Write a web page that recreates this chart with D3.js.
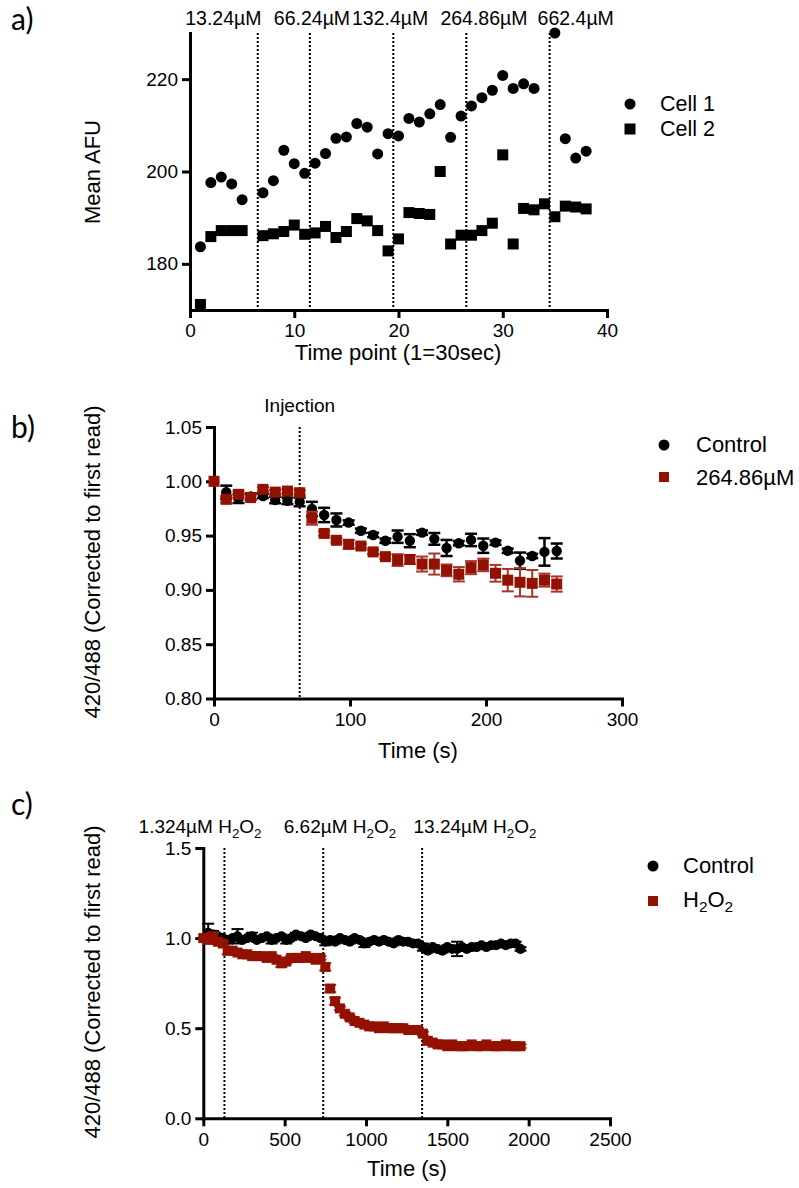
<!DOCTYPE html>
<html>
<head>
<meta charset="utf-8">
<script src="https://cdn.jsdelivr.net/npm/d3@7"></script>
<style>
  body { margin: 0; background: #fff; }
  text { font-family: "Liberation Sans", Arial, Helvetica, sans-serif; fill: #000; }
</style>
</head>
<body>
<script>
// ---- panel a data (time point, 1 = 30 sec) ----
const aTime = [1,2,3,4,5,6,7,8,9,10,11,12,13,14,15,16,17,18,19,20,21,22,23,24,25,26,27,28,29,30,31,32,33,34,35,36,37,38];
const aCell1 = [183.7,197.6,198.8,197.3,193.9,null,195.4,198.0,204.6,201.7,199.6,201.8,203.9,207.2,207.5,210.4,209.6,203.8,208.2,207.7,
  211.5,210.7,212.5,214.5,207.4,212.0,214.2,216.0,217.6,220.8,218.0,219.0,218.0,null,230.0,207.1,202.9,204.4];
const aCell2 = [171.2,185.9,187.2,187.2,187.2,null,186.1,186.5,187.0,188.4,186.4,186.7,188.1,185.7,187.0,189.8,189.3,187.2,182.8,185.4,
  191.1,190.9,190.7,200.0,184.3,186.2,186.2,187.2,188.8,203.6,184.3,192.0,191.7,193.0,190.2,192.5,192.3,191.9];
const aDoseX = [6.5, 11.5, 19.5, 26.5, 34.5];
const aDoseLabels = ["13.24µM", "66.24µM", "132.4µM", "264.86µM", "662.4µM"];
const aDoseLabelX = [3.2, 11.7, 19.2, 28.2, 37.0];

// ---- panel b data ----
const bTime = [0,9,18,27,36,45,54,63,72,81,90,99,108,117,126,135,144,153,162,171,180,189,198,207,216,225,234,243,252];
const bCtrl = [1.000,0.990,0.984,0.986,0.9865,0.9828,0.982,0.981,0.9745,0.969,0.9644,0.962,0.9545,0.9506,0.9453,0.949,0.9453,0.9527,0.947,
  0.9386,0.943,0.946,0.9407,0.9435,0.936,0.9269,0.9312,0.935,0.9358];
const bCtrlErr = [0,0.006,0.004,0.003,0.002,0.003,0.003,0.004,0.0066,0.0066,0.006,0.002,0.002,0.002,0.002,0.0057,0.006,0.002,0.0054,
  0.0074,0.002,0.0057,0.0066,0.002,0.002,0.0075,0.002,0.0127,0.0069];
const bTreat = [1.000,0.9834,0.988,0.985,0.9926,0.990,0.991,0.9895,0.966,0.952,0.9457,0.942,0.9404,0.935,0.9306,0.9275,0.928,0.9238,0.9238,
  0.918,0.9144,0.9205,0.923,0.9153,0.909,0.907,0.906,0.909,0.9054];
const bTreatErr = [0,0.003,0.003,0.002,0.002,0.002,0.002,0.002,0.006,0.002,0.002,0.004,0.002,0.002,0.002,0.0054,0.004,0.0069,0.0097,
  0.0054,0.0066,0.006,0.0058,0.0077,0.0103,0.013,0.0123,0.006,0.007];
const bInjection = 63;

// ---- panel c data ----
const cTime = [0,30,60,90,120,150,180,210,240,270,300,330,360,390,420,450,480,510,540,570,600,630,660,690,720,750,780,810,840,870,
  900,930,960,990,1020,1050,1080,1110,1140,1170,1200,1230,1260,1290,1320,1350,1380,1410,1440,1470,1500,1530,1560,1590,1620,1650,
  1680,1710,1740,1770,1800,1830,1860,1890,1920,1950];
const cCtrl = [1.00,1.03,1.02,1.01,1.00,0.99,1.00,1.01,0.99,1.00,1.01,0.99,1.00,1.01,0.99,1.00,1.01,0.99,1.00,1.02,1.01,1.00,1.02,1.01,
  1.00,0.98,0.99,0.98,1.00,0.99,0.98,1.00,0.99,0.97,0.98,0.99,0.98,0.99,0.98,0.97,0.99,0.98,0.98,0.97,0.97,0.95,0.93,0.95,0.94,0.93,
  0.95,0.94,0.94,0.95,0.94,0.95,0.95,0.96,0.95,0.96,0.96,0.97,0.96,0.97,0.97,0.94];
const cCtrlErr = [0,0.05,0.02,0.01,0.01,0.02,0.01,0.04,0.01,0.01,0.02,0.01,0.01,0.01,0.02,0.01,0.01,0.02,0.01,0.01,0.01,0.01,0.01,0.01,
  0.01,0.02,0.01,0.01,0.01,0.01,0.01,0.01,0.01,0.02,0.01,0.01,0.01,0.01,0.01,0.01,0.01,0.01,0.01,0.01,0.01,0.02,0.01,0.01,0.01,0.01,
  0.01,0.01,0.04,0.01,0.01,0.01,0.01,0.01,0.01,0.01,0.01,0.01,0.01,0.01,0.01,0.01];
const cH2O2 = [1.00,0.99,1.01,0.98,0.97,0.93,0.93,0.92,0.91,0.91,0.90,0.90,0.90,0.89,0.90,0.88,0.86,0.87,0.89,0.89,0.89,0.90,0.89,0.88,
  0.89,0.84,0.72,0.65,0.61,0.58,0.56,0.54,0.53,0.52,0.51,0.51,0.50,0.51,0.50,0.50,0.50,0.50,0.49,0.49,0.49,0.47,0.43,0.42,0.41,0.41,
  0.40,0.41,0.40,0.40,0.40,0.41,0.40,0.40,0.41,0.40,0.40,0.40,0.41,0.40,0.40,0.40];
const cH2O2Err = [0,0.01,0.02,0.01,0.01,0.02,0.01,0.01,0.01,0.01,0.01,0.01,0.01,0.01,0.01,0.01,0.02,0.01,0.01,0.01,0.01,0.01,0.01,0.01,
  0.01,0.02,0.02,0.02,0.01,0.01,0.01,0.01,0.01,0.01,0.01,0.01,0.01,0.01,0.01,0.01,0.01,0.01,0.01,0.01,0.01,0.01,0.01,0.01,0.01,0.01,
  0.01,0.01,0.01,0.01,0.01,0.01,0.01,0.01,0.01,0.01,0.01,0.01,0.01,0.01,0.01,0.01];
const cDoseX = [130, 737, 1345];
const cDoseLabels = ["1.324µM", "6.62µM", "13.24µM"];
const cDoseLabelX = [-20, 840, 1670];

const red = "#931100";
const arial = '"Liberation Sans", Arial, Helvetica, sans-serif';

const svg = d3.select("body").append("svg")
    .attr("width", 799)
    .attr("height", 1188)
    .attr("font-family", arial);

// draws a GraphPad-like axis pair
function drawAxes(x, y, xTicks, yTicks, yFmt) {
    let g = svg.append("g");
    g.append("g")
        .attr("transform", "translate(0," + y.range()[0] + ")")
        .call(d3.axisBottom(x).tickValues(xTicks).tickFormat(d3.format("d"))
            .tickSize(8).tickPadding(6).tickSizeOuter(0));
    g.append("g")
        .attr("transform", "translate(" + x.range()[0] + ",0)")
        .call(d3.axisLeft(y).tickValues(yTicks).tickFormat(yFmt).tickSize(8).tickPadding(4).tickSizeOuter(0));
    g.selectAll("g").attr("font-family", arial);
    g.selectAll(".domain").attr("stroke", "#000").attr("stroke-width", 3).attr("stroke-linecap", "square");
    g.selectAll(".tick line").attr("stroke", "#000").attr("stroke-width", 3);
    g.selectAll(".tick text").attr("font-size", 19).attr("fill", "#000");
}

function dotted(x, y, xs) {
    svg.append("g").selectAll("line").data(xs).enter().append("line")
        .attr("x1", d => x(d)).attr("x2", d => x(d))
        .attr("y1", y.range()[1]).attr("y2", y.range()[0])
        .attr("stroke", "#000").attr("stroke-width", 2).attr("stroke-dasharray", "2,2");
}

function errorBars(x, y, times, vals, errs, color, w, cap) {
    let rows = times.map((t, i) => ({ t: t, v: vals[i], e: errs[i] })).filter(d => d.e > 0);
    let g = svg.append("g").attr("stroke", color).attr("stroke-width", w);
    g.selectAll(".v").data(rows).enter().append("line")
        .attr("x1", d => x(d.t)).attr("x2", d => x(d.t))
        .attr("y1", d => y(d.v - d.e)).attr("y2", d => y(d.v + d.e));
    [-1, 1].forEach(s => {
        g.selectAll(".c" + s).data(rows).enter().append("line")
            .attr("x1", d => x(d.t) - cap).attr("x2", d => x(d.t) + cap)
            .attr("y1", d => y(d.v + s * d.e)).attr("y2", d => y(d.v + s * d.e));
    });
}

function circles(x, y, times, vals, r, color) {
    svg.append("g").selectAll("circle")
        .data(times.map((t, i) => ({ t: t, v: vals[i] })).filter(d => d.v != null))
        .enter().append("circle")
        .attr("cx", d => x(d.t)).attr("cy", d => y(d.v)).attr("r", r).attr("fill", color);
}

function squares(x, y, times, vals, s, color) {
    svg.append("g").selectAll("rect")
        .data(times.map((t, i) => ({ t: t, v: vals[i] })).filter(d => d.v != null))
        .enter().append("rect")
        .attr("x", d => x(d.t) - s / 2).attr("y", d => y(d.v) - s / 2)
        .attr("width", s).attr("height", s).attr("fill", color);
}

function text(x, y, str, size, anchor) {
    return svg.append("text").attr("x", x).attr("y", y).attr("font-size", size)
        .attr("text-anchor", anchor || "start").text(str);
}

function yTitle(x, y, str) {
    svg.append("text").attr("transform", "translate(" + x + "," + y + ") rotate(-90)")
        .attr("text-anchor", "middle").attr("font-size", 22).text(str);
}

// H2O2 with subscripts
function h2o2(sel) {
    sel.append("tspan").text("H");
    sel.append("tspan").attr("dy", 5).attr("font-size", "0.7em").text("2");
    sel.append("tspan").attr("dy", -5).text("O");
    sel.append("tspan").attr("dy", 5).attr("font-size", "0.7em").text("2");
}

// panel letters
[["a)", 30], ["b)", 438], ["c)", 815]].forEach(p => {
    svg.append("text").attr("x", 11).attr("y", p[1]).attr("font-size", 30)
        .style("font-family", "Lato, 'Open Sans', sans-serif").text(p[0]);
});

// ================= panel a =================
let xa = d3.scaleLinear().domain([0, 40]).range([190, 607]);
let ya = d3.scaleLinear().domain([170, 230]).range([310, 33]);
dotted(xa, ya, aDoseX);
drawAxes(xa, ya, [0, 10, 20, 30, 40], [180, 200, 220], d3.format("d"));
circles(xa, ya, aTime, aCell1, 5.5, "#000");
squares(xa, ya, aTime, aCell2, 11, "#000");
aDoseLabels.forEach((l, i) => text(xa(aDoseLabelX[i]), 25, l, 19.5, "middle"));
yTitle(100, 172, "Mean AFU");
text(398, 360, "Time point (1=30sec)", 22, "middle");
svg.append("circle").attr("cx", 630).attr("cy", 104).attr("r", 5.5);
svg.append("rect").attr("x", 624.5).attr("y", 123.5).attr("width", 11).attr("height", 11);
text(660, 111, "Cell 1", 21.5);
text(660, 136, "Cell 2", 21.5);

// ================= panel b =================
let xb = d3.scaleLinear().domain([0, 300]).range([214, 622]);
let yb = d3.scaleLinear().domain([0.80, 1.05]).range([698.5, 427]);
dotted(xb, yb, [bInjection]);
drawAxes(xb, yb, [0, 100, 200, 300], [0.80, 0.85, 0.90, 0.95, 1.00, 1.05], d3.format(".2f"));
errorBars(xb, yb, bTime, bCtrl, bCtrlErr, "#000", 2.5, 6);
circles(xb, yb, bTime, bCtrl, 5.2, "#000");
errorBars(xb, yb, bTime, bTreat, bTreatErr, "#a8342a", 2, 6);
squares(xb, yb, bTime, bTreat, 11, red);
text(xb(bInjection), 412, "Injection", 19, "middle");
yTitle(100, 562, "420/488 (Corrected to first read)");
text(418, 758, "Time (s)", 22, "middle");
svg.append("circle").attr("cx", 664).attr("cy", 445).attr("r", 5.5);
svg.append("rect").attr("x", 659).attr("y", 472).attr("width", 10).attr("height", 10).attr("fill", red);
text(696, 452, "Control", 22);
text(696, 485, "264.86µM", 22);

// ================= panel c =================
let xc = d3.scaleLinear().domain([0, 2500]).range([203.3, 610]);
let yc = d3.scaleLinear().domain([0, 1.5]).range([1118.3, 848]);
dotted(xc, yc, cDoseX);
drawAxes(xc, yc, [0, 500, 1000, 1500, 2000, 2500], [0, 0.5, 1.0, 1.5], d3.format(".1f"));
errorBars(xc, yc, cTime, cCtrl, cCtrlErr, "#000", 2, 6);
circles(xc, yc, cTime, cCtrl, 5, "#000");
errorBars(xc, yc, cTime, cH2O2, cH2O2Err, "#a8342a", 2, 6);
squares(xc, yc, cTime, cH2O2, 10, red);
cDoseLabels.forEach((l, i) => {
    let t = text(xc(cDoseLabelX[i]), 833, l + " ", 19, "middle");
    h2o2(t);
});
yTitle(100, 982, "420/488 (Corrected to first read)");
text(407, 1176, "Time (s)", 22, "middle");
svg.append("circle").attr("cx", 653).attr("cy", 866).attr("r", 5.5);
svg.append("rect").attr("x", 648).attr("y", 896).attr("width", 10).attr("height", 10).attr("fill", red);
text(683, 873, "Control", 22);
h2o2(text(683, 907, "", 22));
</script>
</body>
</html>
